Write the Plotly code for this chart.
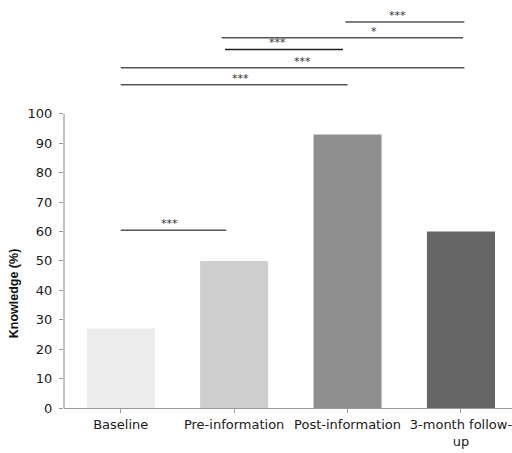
import plotly.graph_objects as go

categories = ["Baseline", "Pre-information", "Post-information", "3-month follow-<br>up"]
knowledge = [27, 50, 93, 60]
bar_colors = ["#ececec", "#cfcfcf", "#8f8f8f", "#666666"]
y_ticks = list(range(0, 101, 10))

# significance comparisons: start, end (category positions), level (%), label, star position
comp_start = [1.98, 0.89, 0.92, 0.0, 0.0, 0.0]
comp_end = [3.03, 3.02, 1.96, 3.03, 2.0, 0.93]
comp_level = [131.2, 125.9, 121.9, 115.7, 109.9, 60.4]
comp_label = ["***", "*", "***", "***", "***", "***"]
comp_star_x = [2.44, 2.23, 1.38, 1.60, 1.06, 0.43]
comp_color = ["#555555", "#555555", "#222222", "#555555", "#555555", "#555555"]

fig = go.Figure()
fig.add_trace(go.Bar(
    x=list(range(len(categories))), y=knowledge,
    marker=dict(color=bar_colors, line=dict(width=0)),
    width=0.6, showlegend=False, hoverinfo="skip",
))

for s, e, lv, lab, sx, col in zip(comp_start, comp_end, comp_level, comp_label, comp_star_x, comp_color):
    fig.add_shape(type="line", xref="x", yref="y", x0=s, x1=e, y0=lv, y1=lv,
                  line=dict(color=col, width=1.5))
    fig.add_annotation(x=sx, y=lv, xref="x", yref="y", text=lab, showarrow=False,
                       yanchor="bottom", yshift=-2,
                       font=dict(family="DejaVu Sans", size=11, color="#333333"))

# y axis line only spanning 0..100
fig.add_shape(type="line", xref="paper", yref="y", x0=0, x1=0, y0=y_ticks[0], y1=y_ticks[-1],
              line=dict(color="#999999", width=1.2), layer="above")

fig.add_annotation(text="<b>Knowledge (%)</b>", textangle=-90, xref="paper", yref="y",
                   x=(14 - 64) / 448, y=39, showarrow=False, xanchor="center", yanchor="middle",
                   font=dict(family="Liberation Sans", size=12.5, color="#111111"))

fig.update_layout(
    width=512, height=453,
    margin=dict(l=64, r=0, t=5, b=45),
    paper_bgcolor="white", plot_bgcolor="white",
    font=dict(family="DejaVu Sans", size=13, color="#1a1a1a"),
    xaxis=dict(
        range=[-0.5, 3.45], tickmode="array",
        tickvals=list(range(len(categories))), ticktext=categories,
        showline=True, linecolor="#999999", linewidth=1.2,
        ticks="outside", tickson="boundaries", ticklen=4, tickcolor="#999999",
        ticklabeloverflow="allow",
        showgrid=False, zeroline=False,
    ),
    yaxis=dict(
        range=[0, 137], tickmode="array", tickvals=y_ticks,
        showline=False, ticks="outside", ticklen=4, tickcolor="#999999",
        ticklabelstandoff=4,
        showgrid=False, zeroline=False,
    ),
)

fig.write_html("out.html")
